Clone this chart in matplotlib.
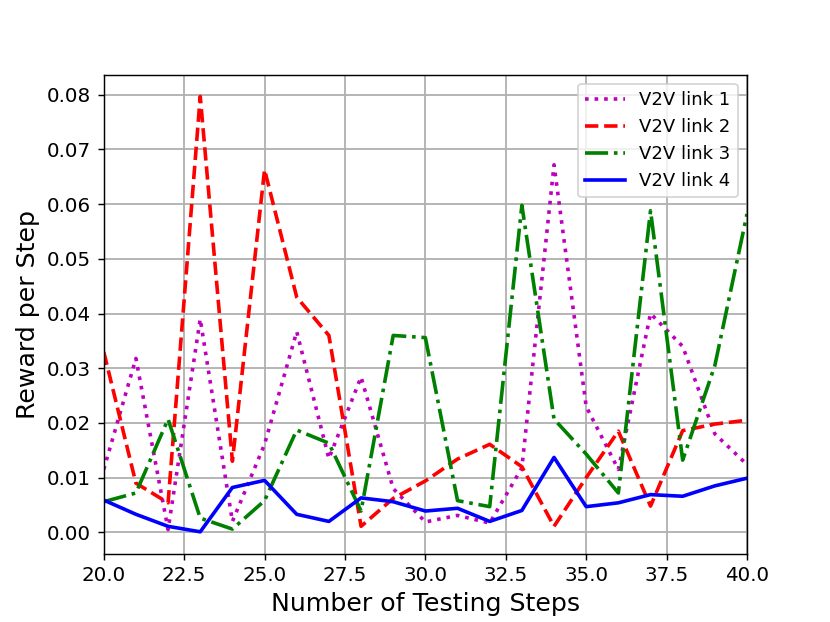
import matplotlib
matplotlib.use("Agg")
import matplotlib.pyplot as plt

steps = list(range(20, 41))

link1 = [0.0115, 0.0318, 0.0005, 0.039, 0.002, 0.0161, 0.0367, 0.0135, 0.0284, 0.008,
         0.0019, 0.0031, 0.0017, 0.0118, 0.0672, 0.023, 0.0115, 0.040, 0.034, 0.018, 0.0124]
link2 = [0.033, 0.009, 0.0054, 0.0797, 0.013, 0.0663, 0.043, 0.036, 0.0011, 0.0062,
         0.0094, 0.0134, 0.0161, 0.012, 0.0011, 0.010, 0.0185, 0.0048, 0.0186, 0.0198, 0.0205]
link3 = [0.0056, 0.0072, 0.0207, 0.0026, 0.0006, 0.0058, 0.0187, 0.0163, 0.0039, 0.036,
         0.0356, 0.0058, 0.0047, 0.0598, 0.0207, 0.0143, 0.0072, 0.0588, 0.0132, 0.0305, 0.0582]
link4 = [0.0059, 0.0033, 0.0011, 0.0001, 0.0082, 0.0095, 0.0033, 0.0020, 0.0063, 0.0056,
         0.0039, 0.0044, 0.0020, 0.0040, 0.0137, 0.0047, 0.0054, 0.0069, 0.0066, 0.0085, 0.0099]

fig, ax = plt.subplots(figsize=(8.3 / 1.3, 6.22 / 1.3), dpi=130)
ax.plot(steps, link1, "m:", lw=2, label="V2V link 1")
ax.plot(steps, link2, "r--", lw=2, label="V2V link 2")
ax.plot(steps, link3, "g-.", lw=2, label="V2V link 3")
ax.plot(steps, link4, "b-", lw=2, label="V2V link 4")
ax.set_xlim(20, 40)
ax.grid(True, color="#b0b0b0", lw=1)
ax.tick_params(labelsize=11)
ax.set_xlabel("Number of Testing Steps", fontsize=14)
ax.set_ylabel("Reward per Step", fontsize=14)
ax.legend(loc="upper right", fontsize=10, handlelength=2.2)
fig.savefig("out.png", dpi=130, facecolor="white")
